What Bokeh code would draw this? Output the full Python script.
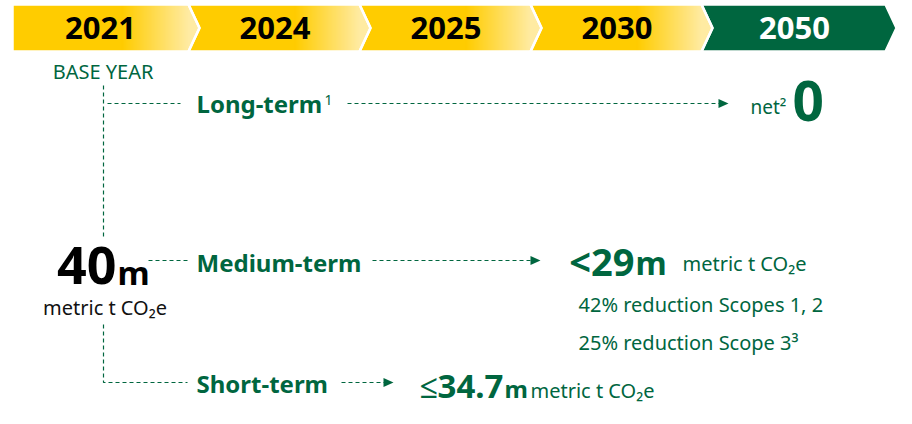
from bokeh.plotting import figure
from bokeh.models import Range1d
from bokeh.core.properties import value
from bokeh.embed import file_html
from bokeh.resources import INLINE

# ---------------- data ----------------
years = ["2021", "2024", "2025", "2030", "2050"]
base_label = "BASE YEAR"
base_emissions = 40          # m metric t CO2e (2021)
short_term_target = 34.7     # m metric t CO2e
medium_term_target = 29      # m metric t CO2e
long_term_target = 0         # net zero
scope12_reduction = 42       # %
scope3_reduction = 25        # %
horizons = ["Long-term", "Medium-term", "Short-term"]
unit = "metric t CO\u2082e"

# ---------------- style ----------------
GREEN = "#00663F"
YELLOW = "#FFCC00"
YELLOW_LIGHT = "#FFEBA3"
FONT = value("Noto Sans")
W, H = 896, 408
BASELINE_FIX = 0.36   # svg text sits ~0.36em low with alphabetic baseline

p = figure(width=W, height=H, x_range=Range1d(0, W), y_range=Range1d(H, 0),
           output_backend="svg", toolbar_location=None, min_border=0,
           x_axis_type=None, y_axis_type=None)
p.grid.visible = False
p.outline_line_color = None
p.background_fill_color = "white"
p.border_fill_color = "white"

# ---------------- banner chevrons ----------------
edges = [12, 188, 359, 530, 701, 885]
TOP, BOT, TIP = 4, 51, 11
MID = (TOP + BOT) / 2
HALF = (BOT - TOP) / 2


def hexmix(c1, c2, t):
    a = [int(c1[i:i + 2], 16) for i in (1, 3, 5)]
    b = [int(c2[i:i + 2], 16) for i in (1, 3, 5)]
    return "#%02x%02x%02x" % tuple(round(a[k] + (b[k] - a[k]) * t) for k in range(3))


shape_xs, shape_ys, shape_cols = [], [], []
strip_xs, strip_ys, strip_cols = [], [], []
for i, yr in enumerate(years):
    x0, x1 = edges[i], edges[i + 1]
    xs = [x0, x1, x1 + TIP, x1, x0]
    ys = [TOP, TOP, MID, BOT, BOT]
    if i > 0:
        xs.append(x0 + TIP)
        ys.append(MID)
    shape_xs.append(xs)
    shape_ys.append(ys)
    last = (yr == years[-1])
    shape_cols.append(GREEN if last else YELLOW)
    if not last:
        g0 = x0 + 0.62 * (x1 - x0)

        def hh(v, x1=x1):
            return HALF if v <= x1 else HALF * max(0.0, 1 - (v - x1) / TIP)

        x = g0
        while x < x1 + TIP:
            xa, xb = x, min(x + 1.6, x1 + TIP)
            t = min(1.0, (x - g0) / (x1 - g0))
            strip_xs.append([xa, xb, xb, xa])
            strip_ys.append([MID - hh(xa), MID - hh(xb), MID + hh(xb), MID + hh(xa)])
            strip_cols.append(hexmix(YELLOW, YELLOW_LIGHT, t))
            x += 1.0

p.patches(shape_xs, shape_ys, fill_color=shape_cols, line_color=None)
p.patches(strip_xs, strip_ys, fill_color=strip_cols, line_color=None)
p.patches(shape_xs, shape_ys, fill_alpha=0, line_color="white", line_width=2.5)

YEAR_SIZE = 31
year_x = [(edges[i] + edges[i + 1]) / 2 + (0 if i == 0 else 1) for i in range(len(years))]
year_col = ["white" if y == years[-1] else "black" for y in years]
p.text(x=year_x, y=[39 - BASELINE_FIX * YEAR_SIZE] * len(years), text=years, text_color=year_col,
       text_font=FONT, text_font_style="bold", text_font_size=f"{YEAR_SIZE}px",
       text_align="center", text_baseline="alphabetic")

# ---------------- layout rows ----------------
Y_LONG = 103
Y_MED = 260
Y_SHORT = 382
X_SPINE = 103

dash_xs = [[X_SPINE, X_SPINE], [X_SPINE, X_SPINE, 187], [107, 180], [347, 719],
           [148, 187], [372, 531], [341, 384]]
dash_ys = [[85, Y_MED - 23], [Y_MED + 64, Y_SHORT, Y_SHORT], [Y_LONG, Y_LONG], [Y_LONG, Y_LONG],
           [Y_MED, Y_MED], [Y_MED, Y_MED], [Y_SHORT, Y_SHORT]]
p.multi_line(dash_xs, dash_ys, line_color=GREEN, line_width=1.2, line_dash="4 3")

tips = [(728, Y_LONG), (540, Y_MED), (393, Y_SHORT)]
p.patches([[tx - 10, tx, tx - 10] for tx, ty in tips],
          [[ty - 4.5, ty, ty + 4.5] for tx, ty in tips],
          fill_color=GREEN, line_color=None)


def txt(x, y, s, size, color=GREEN, bold=False, align="left"):
    p.text(x=[x], y=[y - BASELINE_FIX * size], text=[s], text_color=color, text_font=FONT,
           text_font_style="bold" if bold else "normal", text_font_size=f"{size}px",
           text_align=align, text_baseline="alphabetic")


# base year
txt(102.5, 78, base_label, 20, align="center")
txt(116, Y_MED + 24, f"{base_emissions}", 52, "black", True, "right")
txt(117, Y_MED + 24, "m", 33, "black", True)
txt(104.5, Y_MED + 54, unit, 20, "#111111", align="center")

# long term
txt(196, Y_LONG + 9, horizons[0], 24, bold=True)
txt(324, Y_LONG + 2, "1", 14)
txt(750, Y_LONG + 10, "net\u00b2", 19)
txt(792, Y_LONG + 17, f"{long_term_target}", 55, bold=True)

# medium term
txt(196, Y_MED + 11, horizons[1], 24, bold=True)
txt(634, Y_MED + 14, f"<{medium_term_target}", 38, bold=True, align="right")
txt(635, Y_MED + 14, "m", 32, bold=True)
txt(682, Y_MED + 10, unit, 20)
txt(578, Y_MED + 51, f"{scope12_reduction}% reduction Scopes 1, 2", 20)
txt(578, Y_MED + 89, f"{scope3_reduction}% reduction Scope 3\u00b3", 20)

# short term
txt(196, Y_SHORT + 10, horizons[2], 24, bold=True)
txt(503, Y_SHORT + 15, f"\u2264{short_term_target}", 33, bold=True, align="right")
txt(504, Y_SHORT + 15, "m", 24, bold=True)
txt(530, Y_SHORT + 15, unit, 20)

open("out.html", "w").write(file_html(p, INLINE))
